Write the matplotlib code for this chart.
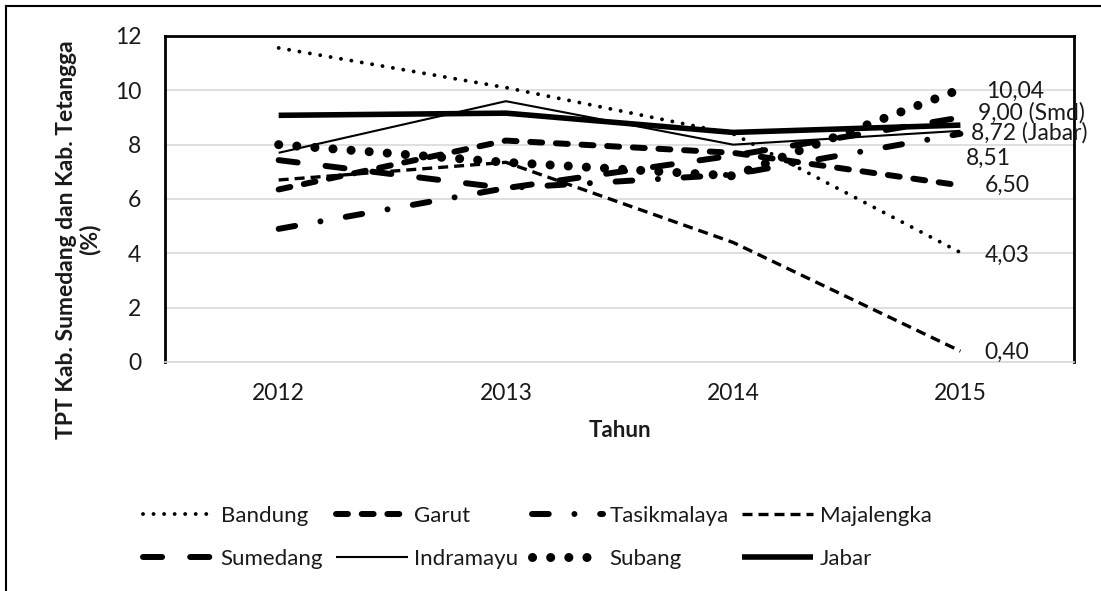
import numpy as np
import matplotlib
matplotlib.use("Agg")
import matplotlib.pyplot as plt
from matplotlib.lines import Line2D

plt.rcParams['font.family'] = ['Lato', 'DejaVu Sans']

# data
years = ["2012", "2013", "2014", "2015"]
bandung = [11.56, 10.10, 8.40, 4.03]
garut = [6.35, 8.15, 7.70, 6.50]
tasikmalaya = [4.90, 6.40, 6.90, 8.40]
majalengka = [6.70, 7.35, 4.40, 0.40]
sumedang = [7.43, 6.40, 7.60, 9.00]
indramayu = [7.70, 9.60, 8.00, 8.51]
subang = [8.00, 7.35, 6.85, 10.04]
jabar = [9.08, 9.16, 8.45, 8.72]

names = ["Bandung", "Garut", "Tasikmalaya", "Majalengka",
         "Sumedang", "Indramayu", "Subang", "Jabar"]
series = [bandung, garut, tasikmalaya, majalengka,
          sumedang, indramayu, subang, jabar]

# line styles (width in pt, dash pattern in linewidths, cap)
styles = {
    "Bandung": dict(lw=2.8, ls=(0, (0.01, 2.7)), cap="round"),
    "Garut": dict(lw=4.3, ls=(0, (2.0, 2.3)), cap="round"),
    "Tasikmalaya": dict(lw=4.3, ls=(0, (2.8, 4.3, 0.01, 4.3)), cap="round"),
    "Majalengka": dict(lw=2.4, ls=(0, (3.0, 1.8)), cap="butt"),
    "Sumedang": dict(lw=4.3, ls=(0, (3.2, 4.7)), cap="round"),
    "Indramayu": dict(lw=1.5, ls="-", cap="butt"),
    "Subang": dict(lw=6.5, ls=(0, (0.01, 2.0)), cap="round"),
    "Jabar": dict(lw=4.0, ls="-", cap="butt"),
}

# end labels: which series, suffix, offset in points
end_labels = [
    ("Subang", "", 18.7, -1.8),
    ("Sumedang", " (Smd)", 13.0, 3.2),
    ("Jabar", " (Jabar)", 7.9, -5.7),
    ("Indramayu", "", 4.3, -19.6),
    ("Garut", "", 17.3, 0.0),
    ("Bandung", "", 17.3, -1.8),
    ("Majalengka", "", 17.3, -0.6),
]

txt_col = "#1a1a1a"

fig = plt.figure(figsize=(11.01, 5.91), dpi=100)
ax = fig.add_axes([0.1499, 0.3875, 0.8256, 0.5516])

x = np.arange(len(years))
handles = {}
for name, vals in zip(names, series):
    st = styles[name]
    ln, = ax.plot(x, vals, color="black", lw=st["lw"], linestyle=st["ls"],
                  dash_capstyle=st["cap"], solid_capstyle="butt", label=name)
    handles[name] = ln

data = dict(zip(names, series))
for name, suffix, dx, dy in end_labels:
    v = data[name][-1]
    txt = f"{v:.2f}".replace(".", ",") + suffix
    ax.annotate(txt, xy=(x[-1], v), xytext=(dx, dy), textcoords="offset points",
                ha="left", va="center", fontsize=16.5, color=txt_col,
                annotation_clip=False)

ax.set_xlim(-0.5, 3.5)
ax.set_ylim(0, 12)
ax.set_yticks(np.arange(0, 13, 2))
ax.set_xticks(x)
ax.set_xticklabels(years)
ax.tick_params(length=0, labelsize=16.5, colors=txt_col)
ax.tick_params(axis="y", pad=17)
ax.tick_params(axis="x", pad=15)
ax.yaxis.grid(True, color="#d9d9d9", lw=1.2)
ax.set_axisbelow(True)
for s in ["left", "top", "right"]:
    ax.spines[s].set_linewidth(2.0)
    ax.spines[s].set_color("black")
ax.spines["bottom"].set_color("#d9d9d9")
ax.spines["bottom"].set_linewidth(1.2)

ax.set_xlabel("Tahun", fontsize=16, fontweight="bold", labelpad=12, color=txt_col)
ax.set_ylabel("TPT Kab. Sumedang dan Kab. Tetangga\n(%)", fontsize=16.5,
              fontweight="bold", linespacing=1.1, color=txt_col)
ax.yaxis.set_label_coords(-0.071, 0.375)

order = ["Bandung", "Sumedang", "Garut", "Indramayu",
         "Tasikmalaya", "Subang", "Majalengka", "Jabar"]
leg = fig.legend([handles[n] for n in order], order, ncol=4, loc="center",
                 bbox_to_anchor=(0.488, 0.091), frameon=False, fontsize=16,
                 handlelength=3.2, handletextpad=0.3, columnspacing=0.6,
                 labelspacing=1.05)
for t in leg.get_texts():
    t.set_color(txt_col)

# outer frame of the original picture
fig.add_artist(Line2D([0.005, 0.005], [0, 0.99], transform=fig.transFigure,
                      color="black", lw=1.5))
fig.add_artist(Line2D([0.005, 1.0], [0.99, 0.99], transform=fig.transFigure,
                      color="black", lw=1.5))

fig.savefig("out.png", dpi=100)
